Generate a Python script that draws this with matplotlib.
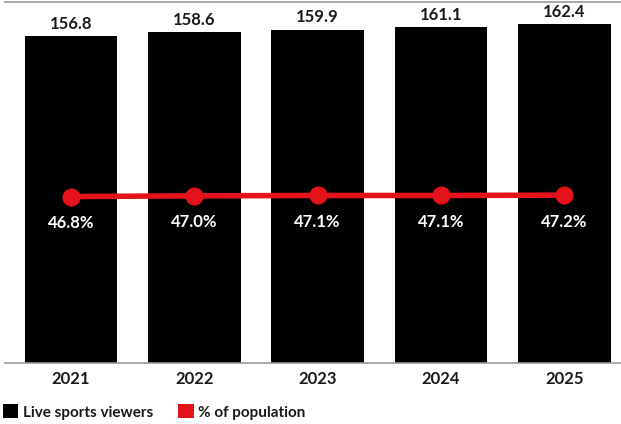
import matplotlib
matplotlib.use("Agg")
import matplotlib.pyplot as plt
from matplotlib.patches import Patch

years = ["2021", "2022", "2023", "2024", "2025"]
viewers = [156.8, 158.6, 159.9, 161.1, 162.4]
pct_population = [46.8, 47.0, 47.1, 47.1, 47.2]

RED = "#e3121b"
TXT = "#1a1a1a"
plt.rcParams['font.family'] = ['Lato', 'DejaVu Sans']

fig = plt.figure(figsize=(6.21, 4.24), dpi=100)
ax = fig.add_axes([5/621, 61/424, 616/621, 361/424])
x = list(range(len(years)))
ax.bar(x, viewers, width=0.75, color="black", zorder=2)
ax.set_xlim(-0.535, 4.46)
ax.set_ylim(0, 173.1)
for s in ["left", "right"]:
    ax.spines[s].set_visible(False)
for s in ["top", "bottom"]:
    ax.spines[s].set_color("#999999")
    ax.spines[s].set_linewidth(1.2)
ax.set_yticks([])
ax.set_xticks(x)
ax.set_xticklabels(years, fontsize=12, fontweight="bold", color=TXT)
ax.tick_params(axis="x", length=0, pad=6)
for xi, v in zip(x, viewers):
    ax.annotate(f"{v:.1f}", (xi, v), xytext=(0, 3), textcoords="offset points",
                ha="center", va="bottom", fontsize=12, fontweight="bold", color=TXT)

ax2 = ax.twinx()
ax2.set_ylim(0, 101.5)
ax2.set_yticks([])
for s in ax2.spines.values():
    s.set_visible(False)
ax2.plot(x, pct_population, color=RED, linewidth=4, marker="o", markersize=12, zorder=3)
for xi, p in zip(x, pct_population):
    ax2.annotate(f"{p:.1f}%", (xi, p), xytext=(0, -19), textcoords="offset points",
                 ha="center", va="center", fontsize=12, fontweight="bold", color="white")

handles = [Patch(facecolor="black", label="Live sports viewers"),
           Patch(facecolor=RED, label="% of population")]
leg = fig.legend(handles=handles, loc="center left", bbox_to_anchor=(0.0, 12/424),
                 ncol=2, frameon=False, handlelength=1.0, handleheight=1.0,
                 handletextpad=0.3, columnspacing=1.65, borderaxespad=0, borderpad=0.2,
                 prop={"size": 11, "weight": "bold"})
for t in leg.get_texts():
    t.set_color(TXT)

fig.savefig("out.png", dpi=100)
